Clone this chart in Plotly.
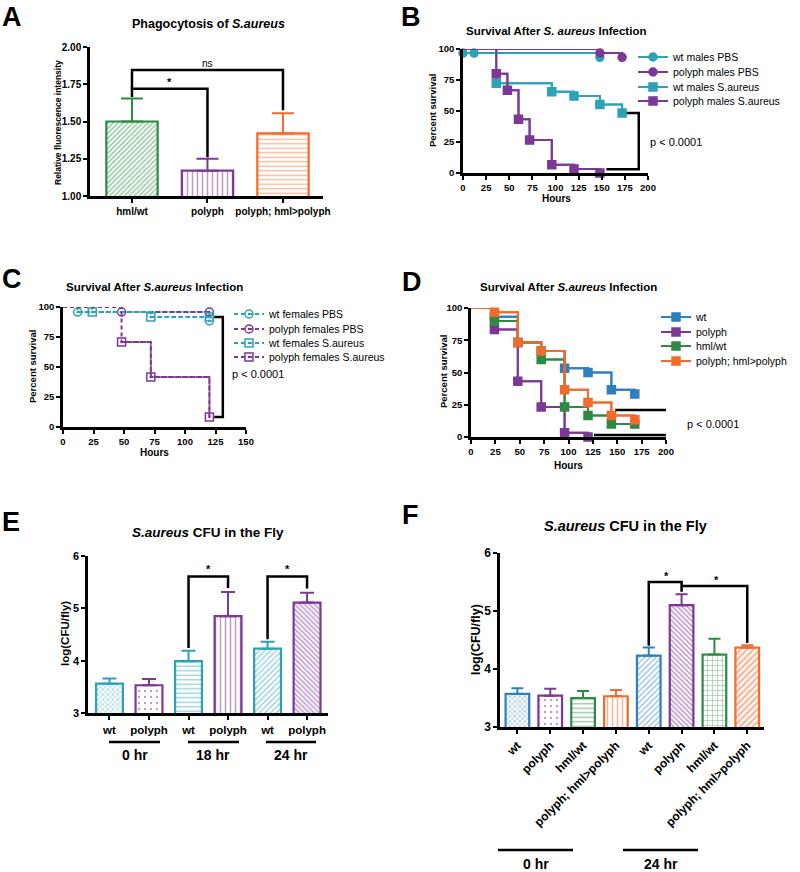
import plotly.graph_objects as go

W, H = 800, 872
FONT = "Liberation Sans, Arial, sans-serif"

# ---------------- data ----------------
# Panel A: phagocytosis
a_groups = ["hml/wt", "polyph", "polyph; hml>polyph"]
a_mean = [1.50, 1.17, 1.42]
a_sem = [0.155, 0.08, 0.135]
a_yticks = [1.00, 1.25, 1.50, 1.75, 2.00]

# Panel B: male survival (hours, percent survival)
b_names = ["wt males PBS", "polyph males PBS", "wt males S.aureus", "polyph males S.aureus"]
b_wt_pbs_t = [0, 0, 12, 148]
b_wt_pbs_s = [100, 96.7, 96.7, 93.3]
b_pp_pbs_t = [0, 148, 172]
b_pp_pbs_s = [100, 96.7, 93.3]
b_wt_sa_t = [0, 36, 96, 120, 148, 172]
b_wt_sa_s = [100, 72.4, 65.5, 62.1, 55.2, 48.3]
b_pp_sa_t = [0, 36, 48, 60, 72, 96, 120, 148]
b_pp_sa_s = [100, 80.0, 66.7, 43.3, 26.7, 6.7, 3.3, 0]

# Panel C: female survival
c_names = ["wt females PBS", "polyph females PBS", "wt females S.aureus", "polyph females S.aureus"]
c_wt_pbs_t = [0, 12, 120]
c_wt_pbs_s = [100, 95.8, 88.5]
c_pp_pbs_t = [0, 48, 120]
c_pp_pbs_s = [100, 95.8, 95.8]
c_wt_sa_t = [0, 24, 72, 120]
c_wt_sa_s = [100, 95.8, 91.7, 91.7]
c_pp_sa_t = [0, 48, 72, 120]
c_pp_sa_s = [100, 70.8, 41.7, 8.3]

# Panel D: survival with rescue
d_names = ["wt", "polyph", "hml/wt", "polyph; hml>polyph"]
d_wt_t = [0, 24, 48, 72, 96, 120, 144, 168]
d_wt_s = [100, 93.3, 73.3, 66.7, 53.3, 50.0, 36.7, 33.3]
d_pp_t = [0, 24, 48, 72, 96, 120]
d_pp_s = [100, 83.3, 43.3, 23.3, 3.3, 0]
d_hml_t = [0, 24, 48, 72, 96, 120, 144, 168]
d_hml_s = [100, 90.0, 73.3, 60.0, 23.3, 16.7, 10.0, 10.0]
d_res_t = [0, 24, 48, 72, 96, 120, 144, 168]
d_res_s = [100, 96.7, 73.3, 66.7, 36.7, 26.7, 16.7, 13.3]

# Panel E: CFU
e_labels = ["wt", "polyph", "wt", "polyph", "wt", "polyph"]
e_groups = ["0 hr", "18 hr", "24 hr"]
e_mean = [3.56, 3.53, 3.99, 4.85, 4.23, 5.11]
e_sem = [0.10, 0.12, 0.20, 0.46, 0.13, 0.19]

# Panel F: CFU with rescue
f_labels = ["wt", "polyph", "hml/wt", "polyph; hml>polyph", "wt", "polyph", "hml/wt", "polyph; hml>polyph"]
f_groups = ["0 hr", "24 hr"]
f_mean = [3.57, 3.54, 3.50, 3.53, 4.23, 5.10, 4.25, 4.37]
f_sem = [0.10, 0.12, 0.12, 0.11, 0.14, 0.19, 0.27, 0.04]

# ---------------- styles ----------------
TEAL = "#2ba2b6"
PURPLE = "#7b3894"
BLUE = "#2f7fbe"
GREEN = "#2d8a45"
ORANGE = "#f26b2b"

a_colors = [GREEN, PURPLE, ORANGE]
a_pat = ["/", "|", "-"]
a_psize = [3.5, 5, 4.5]
a_psol = [0.45, 0.3, 0.3]
e_colors = [TEAL, PURPLE, TEAL, PURPLE, TEAL, PURPLE]
e_pat = ["x", ".", "-", "|", "/", "\\"]
e_psize = [3.5, 6, 4.5, 5, 4, 3.5]
e_psol = [0.4, 0.12, 0.3, 0.3, 0.35, 0.45]
f_colors = [BLUE, PURPLE, GREEN, ORANGE, BLUE, PURPLE, GREEN, ORANGE]
f_pat = ["x", ".", "-", "|", "/", "\\", "+", "/"]
f_psize = [3.5, 6, 4.5, 5, 4, 3.5, 5, 4.5]
f_psol = [0.4, 0.12, 0.3, 0.3, 0.35, 0.45, 0.25, 0.5]


def dx(l, r):
    return [l / W, r / W]


def dy(t, b):
    return [1 - b / H, 1 - t / H]


def px(x):
    return x / W


def py(y):
    return 1 - y / H


def tfont(size):
    return dict(family=FONT, size=size, color="black", weight="bold")


def axis(**kw):
    base = dict(showline=True, linecolor="black", linewidth=2.5, ticks="outside",
                tickcolor="black", tickwidth=2, ticklen=4, showgrid=False, zeroline=False,
                tickfont=tfont(10), fixedrange=True)
    base.update(kw)
    return base


fig = go.Figure()
annotations = []
shapes = []
legends = {}


def ann(text, x, y, size=11, bold=True, xanchor="center", yanchor="middle", angle=0):
    annotations.append(dict(text=text, x=px(x), y=py(y), xref="paper", yref="paper",
                            showarrow=False, xanchor=xanchor, yanchor=yanchor, textangle=angle,
                            font=dict(family=FONT, size=size, color="black",
                                      weight="bold" if bold else "normal")))


def bracket(xr, yr, pts):
    path = "M " + " L ".join(f"{x},{y}" for x, y in pts)
    shapes.append(dict(type="path", path=path, xref=xr, yref=yr,
                       line=dict(color="black", width=2.5)))


def bars(xa, ya, means, sems, colors, pats, psizes, psols, width, cap):
    for i, (m, s) in enumerate(zip(means, sems)):
        fig.add_trace(go.Bar(
            x=[i], y=[m], width=width, xaxis=xa, yaxis=ya, showlegend=False,
            marker=dict(color="white", line=dict(color=colors[i], width=2.2),
                        pattern=dict(shape=pats[i], fgcolor=colors[i], bgcolor="white",
                                     size=psizes[i], solidity=psols[i])),
            error_y=dict(type="data", array=[s], arrayminus=[0], symmetric=False,
                         color=colors[i], thickness=2, width=cap),
        ))


def surv(xa, ya, t, s, name, color, symbol, leg_pos, dash="solid", msize=8):
    # one single-entry legend per series, placed where the reference shows it
    key = "legend" if not legends else f"legend{len(legends) + 1}"
    legends[key] = leg_pos
    fig.add_trace(go.Scatter(x=t, y=s, mode="lines", line=dict(color=color, width=2, shape="hv", dash=dash),
                             xaxis=xa, yaxis=ya, showlegend=False, cliponaxis=False, hoverinfo="skip"))
    fig.add_trace(go.Scatter(x=t[1:], y=s[1:], mode="lines+markers", name=name, legend=key,
                             line=dict(color=color, width=2, shape="hv", dash=dash),
                             marker=dict(color=color, symbol=symbol, size=msize,
                                         line=dict(color=color, width=1.5)),
                             xaxis=xa, yaxis=ya, cliponaxis=False))


# ---------------- Panel A ----------------
bars("x", "y", a_mean, a_sem, a_colors, a_pat, a_psize, a_psol, 0.68, 11)
bracket("x", "y", [(0, a_mean[0] + a_sem[0] + 0.01), (0, 1.72), (1, 1.72), (1, a_mean[1] + a_sem[1] + 0.01)])
bracket("x", "y", [(0, 1.72), (0, 1.845), (2, 1.845), (2, a_mean[2] + a_sem[2] + 0.02)])
annotations.append(dict(text="*", x=0.5, y=1.765, xref="x", yref="y", showarrow=False,
                        font=tfont(11)))
annotations.append(dict(text="ns", x=1.0, y=1.89, xref="x", yref="y", showarrow=False,
                        font=dict(family=FONT, size=10, color="black")))

# ---------------- Panel B ----------------
BX, BY = 679, [57, 72, 87, 101]
surv("x2", "y2", b_wt_pbs_t, b_wt_pbs_s, b_names[0], TEAL, "circle", (BX, BY[0]))
surv("x2", "y2", b_pp_pbs_t, b_pp_pbs_s, b_names[1], PURPLE, "circle", (BX, BY[1]))
surv("x2", "y2", b_wt_sa_t, b_wt_sa_s, b_names[2], TEAL, "square", (BX, BY[2]))
surv("x2", "y2", b_pp_sa_t, b_pp_sa_s, b_names[3], PURPLE, "square", (BX, BY[3]))
bracket("x2", "y2", [(b_wt_sa_t[-1] + 5, b_wt_sa_s[-1]), (190, b_wt_sa_s[-1]), (190, 3), (155, 3)])

# ---------------- Panel C ----------------
DASH = "4px,3px"
CX, CY = 275, [314, 329, 343, 357]
surv("x3", "y3", c_wt_pbs_t, c_wt_pbs_s, c_names[0], TEAL, "circle-open-dot", (CX, CY[0]), DASH, 8)
surv("x3", "y3", c_pp_pbs_t, c_pp_pbs_s, c_names[1], PURPLE, "circle-open-dot", (CX, CY[1]), DASH, 8)
surv("x3", "y3", c_wt_sa_t, c_wt_sa_s, c_names[2], TEAL, "square-open-dot", (CX, CY[2]), DASH, 8)
surv("x3", "y3", c_pp_sa_t, c_pp_sa_s, c_names[3], PURPLE, "square-open-dot", (CX, CY[3]), DASH, 8)
bracket("x3", "y3", [(c_wt_sa_t[-1] + 4, c_wt_sa_s[-1]), (131, c_wt_sa_s[-1]), (131, c_pp_sa_s[-1]),
                     (c_pp_sa_t[-1] + 4, c_pp_sa_s[-1])])

# ---------------- Panel D ----------------
DX, DY = 702, [317, 332, 346, 361]
surv("x4", "y4", d_wt_t, d_wt_s, d_names[0], BLUE, "square", (DX, DY[0]))
surv("x4", "y4", d_pp_t, d_pp_s, d_names[1], PURPLE, "square", (DX, DY[1]))
surv("x4", "y4", d_hml_t, d_hml_s, d_names[2], GREEN, "square", (DX, DY[2]))
surv("x4", "y4", d_res_t, d_res_s, d_names[3], ORANGE, "square", (DX, DY[3]))
bracket("x4", "y4", [(148, 21), (211, 21), (211, 1.5), (126, 1.5)])

# ---------------- Panel E ----------------
bars("x5", "y5", e_mean, e_sem, e_colors, e_pat, e_psize, e_psol, 0.68, 7)
for a, b in [(2, 3), (4, 5)]:
    bracket("x5", "y5", [(a, e_mean[a] + e_sem[a] + 0.05), (a, 5.61), (b, 5.61),
                         (b, e_mean[b] + e_sem[b] + 0.08)])
    annotations.append(dict(text="*", x=(a + b) / 2, y=5.75, xref="x5", yref="y5", showarrow=False,
                            font=tfont(11)))

# ---------------- Panel F ----------------
bars("x6", "y6", f_mean, f_sem, f_colors, f_pat, f_psize, f_psol, 0.72, 6)
bracket("x6", "y6", [(4, f_mean[4] + f_sem[4] + 0.03), (4, 5.50), (5, 5.50), (5, f_mean[5] + f_sem[5] + 0.04)])
bracket("x6", "y6", [(5, 5.43), (7, 5.43), (7, f_mean[7] + f_sem[7] + 0.04)])
annotations.append(dict(text="*", x=4.55, y=5.6, xref="x6", yref="y6", showarrow=False, font=tfont(11)))
annotations.append(dict(text="*", x=6.05, y=5.53, xref="x6", yref="y6", showarrow=False, font=tfont(11)))

# ---------------- text ----------------
for letter, x, y in [("A", 0, 0), ("B", 399, 0), ("C", 0, 262), ("D", 400, 265), ("E", 0, 505), ("F", 400, 498)]:
    ann(letter, x, y, size=27, bold=True, xanchor="left", yanchor="top")

ann("Phagocytosis of <i>S.aureus</i>", 208, 24, size=12.5)
ann("Survival After <i>S. aureus</i> Infection", 556, 31, size=11.5)
ann("Survival After <i>S.aureus</i> Infection", 154, 287, size=11.5)
ann("Survival After <i>S.aureus</i> Infection", 568, 287, size=11.5)
ann("<i>S.aureus</i> CFU in the Fly", 208, 532, size=13.5)
ann("<i>S.aureus</i> CFU in the Fly", 625, 526, size=14.5)

ann("Relative fluorescence intensity", 58, 122, size=8.5, angle=-90)
ann("Percent survival", 433, 111, size=9.5, angle=-90)
ann("Hours", 556, 198, size=10)
ann("Percent survival", 33, 367, size=9.5, angle=-90)
ann("Hours", 154, 453, size=10)
ann("Percent survival", 443, 372, size=9.5, angle=-90)
ann("Hours", 568, 465, size=10)
ann("log(CFU/fly)", 65, 634, size=11.5, angle=-90)
ann("log(CFU/fly)", 476, 640, size=12.5, angle=-90)

ann("p < 0.0001", 648, 142, size=11, bold=False, xanchor="left")
ann("p < 0.0001", 230, 374, size=11, bold=False, xanchor="left")
ann("p < 0.0001", 685, 424, size=11, bold=False, xanchor="left")

# group labels under E
for (l, r), g in zip([(109, 160), (188, 239), (266, 316)], e_groups):
    shapes.append(dict(type="line", xref="paper", yref="paper", x0=px(l), x1=px(r), y0=py(742), y1=py(742),
                       line=dict(color="black", width=2.5)))
    ann(g, (l + r) / 2, 755, size=14)
# group labels under F
for (l, r), g in zip([(498, 573), (623, 698)], f_groups):
    shapes.append(dict(type="line", xref="paper", yref="paper", x0=px(l), x1=px(r), y0=py(850), y1=py(850),
                       line=dict(color="black", width=2.5)))
    ann(g, (l + r) / 2, 864, size=14)

# ---------------- layout ----------------
legend_layout = {}
for key, (tx, ty) in legends.items():
    legend_layout[key] = dict(x=px(tx - 46), y=py(ty), xanchor="left", yanchor="middle",
                              font=dict(family=FONT, size=10.5, color="black"),
                              bgcolor="rgba(0,0,0,0)", itemwidth=30, borderwidth=0)

fig.update_layout(
    width=W, height=H, margin=dict(l=0, r=0, t=0, b=0, autoexpand=False),
    paper_bgcolor="white", plot_bgcolor="white", barmode="overlay",
    font=dict(family=FONT, color="black"),
    showlegend=True,
    xaxis=axis(domain=dx(90, 323), range=[-0.556, 2.53], tickvals=[0, 1, 2], ticktext=a_groups),
    yaxis=axis(domain=dy(47, 196), range=[1, 2], tickvals=a_yticks,
               ticktext=[f"{v:.2f}" for v in a_yticks]),
    xaxis2=axis(domain=dx(463, 648), range=[0, 200], tickvals=list(range(0, 201, 25)), anchor="y2",
                tickfont=tfont(9.5)),
    yaxis2=axis(domain=dy(49, 173), range=[0, 100], tickvals=[0, 25, 50, 75, 100], anchor="x2",
                tickfont=tfont(9.5)),
    xaxis3=axis(domain=dx(63, 246), range=[0, 150], tickvals=list(range(0, 151, 25)), anchor="y3",
                tickfont=tfont(9.5)),
    yaxis3=axis(domain=dy(307, 427), range=[0, 100], tickvals=[0, 25, 50, 75, 100], anchor="x3",
                tickfont=tfont(9.5)),
    xaxis4=axis(domain=dx(471, 666), range=[0, 200], tickvals=list(range(0, 201, 25)), anchor="y4",
                tickfont=tfont(9.5)),
    yaxis4=axis(domain=dy(308, 437), range=[0, 100], tickvals=[0, 25, 50, 75, 100], anchor="x4",
                tickfont=tfont(9.5)),
    xaxis5=axis(domain=dx(88, 328), range=[-0.544, 5.53], tickvals=list(range(6)), ticktext=e_labels,
                anchor="y5", tickfont=tfont(11.5)),
    yaxis5=axis(domain=dy(556, 713), range=[3, 6], tickvals=[3, 4, 5, 6], anchor="x5",
                tickfont=tfont(11)),
    xaxis6=axis(domain=dx(500, 764), range=[-0.53, 7.51], tickvals=list(range(8)), ticktext=f_labels,
                tickangle=-45, anchor="y6", tickfont=tfont(12)),
    yaxis6=axis(domain=dy(553, 727), range=[3, 6], tickvals=[3, 4, 5, 6], anchor="x6",
                tickfont=tfont(12)),
    annotations=annotations,
    shapes=shapes,
    **legend_layout,
)

fig.write_html("out.html", config={"displayModeBar": False},
               post_script="document.body.style.margin='0px';document.body.style.padding='0px';")
